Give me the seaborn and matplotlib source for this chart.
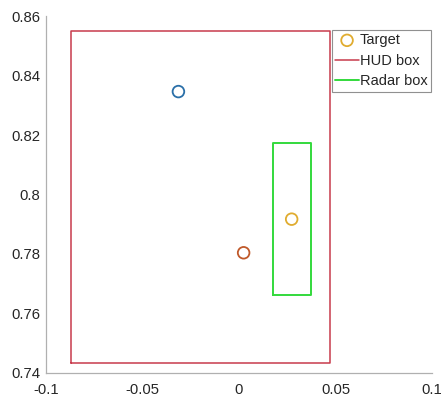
import numpy as np
import pandas as pd
import seaborn as sns
import matplotlib
matplotlib.use("Agg")
import matplotlib.pyplot as plt

# data
point_x = [-0.0314, 0.0024, 0.0273]
point_y = [0.8346, 0.7804, 0.7917]
point_colors = ["#2a6fa8", "#c0592a", "#e0ac30"]
point_names = ["", "", "Target"]

hud_x = [-0.087, 0.0472]
hud_y = [0.7434, 0.855]
radar_x = [0.0176, 0.0371]
radar_y = [0.7662, 0.8173]

xticks = [-0.1, -0.05, 0, 0.05, 0.1]
xtick_labels = ["-0.1", "-0.05", "0", "0.05", "0.1"]
yticks = [0.74, 0.76, 0.78, 0.8, 0.82, 0.84, 0.86]
ytick_labels = ["0.74", "0.76", "0.78", "0.8", "0.82", "0.84", "0.86"]


def box_outline(xr, yr):
    # closed rectangle path from its x and y ranges
    xs = [xr[0], xr[1], xr[1], xr[0], xr[0]]
    ys = [yr[0], yr[0], yr[1], yr[1], yr[0]]
    return pd.DataFrame({"x": xs, "y": ys})


sns.set_style("white")
plt.rcParams["font.family"] = ["Liberation Sans", "DejaVu Sans"]

fig = plt.figure(figsize=(4.43, 4.01), dpi=100)
ax = fig.add_axes([0.104, 0.070, 0.871, 0.890])

hud = box_outline(hud_x, hud_y)
radar = box_outline(radar_x, radar_y)

for px, py, c, name in zip(point_x, point_y, point_colors, point_names):
    sns.scatterplot(x=[px], y=[py], ax=ax, s=70, marker="o",
                    facecolors="none", edgecolor=c, linewidth=1.3,
                    label=name if name else None, zorder=3)

sns.lineplot(data=hud, x="x", y="y", sort=False, estimator=None, ax=ax,
             color="#c83a4c", linewidth=1.1, label="HUD box")
sns.lineplot(data=radar, x="x", y="y", sort=False, estimator=None, ax=ax,
             color="#33d93c", linewidth=1.4, label="Radar box")

ax.set_xlim(-0.1, 0.1)
ax.set_ylim(0.74, 0.86)
ax.set_xticks(xticks)
ax.set_xticklabels(xtick_labels)
ax.set_yticks(yticks)
ax.set_yticklabels(ytick_labels)
ax.set_xlabel("")
ax.set_ylabel("")

for side in ["top", "right"]:
    ax.spines[side].set_visible(False)
for side in ["left", "bottom"]:
    ax.spines[side].set_color("#b0b0b0")
    ax.spines[side].set_linewidth(0.9)

ax.tick_params(axis="x", direction="in", length=3, width=0.8, color="#707070",
               labelsize=10.7, labelcolor="#262626", pad=7)
ax.tick_params(axis="y", direction="out", length=3, width=0.8, color="#707070",
               labelsize=10.7, labelcolor="#262626", pad=1)

leg = ax.legend(loc="upper right", bbox_to_anchor=(0.997, 0.961),
                fontsize=10.5, frameon=True, fancybox=False, handlelength=1.65,
                handletextpad=0.05, borderpad=0.22, labelspacing=0.45,
                borderaxespad=0.0)
leg.get_frame().set_edgecolor("#909090")
leg.get_frame().set_linewidth(0.8)
leg.get_frame().set_alpha(1)

fig.savefig("out.png", dpi=100)
